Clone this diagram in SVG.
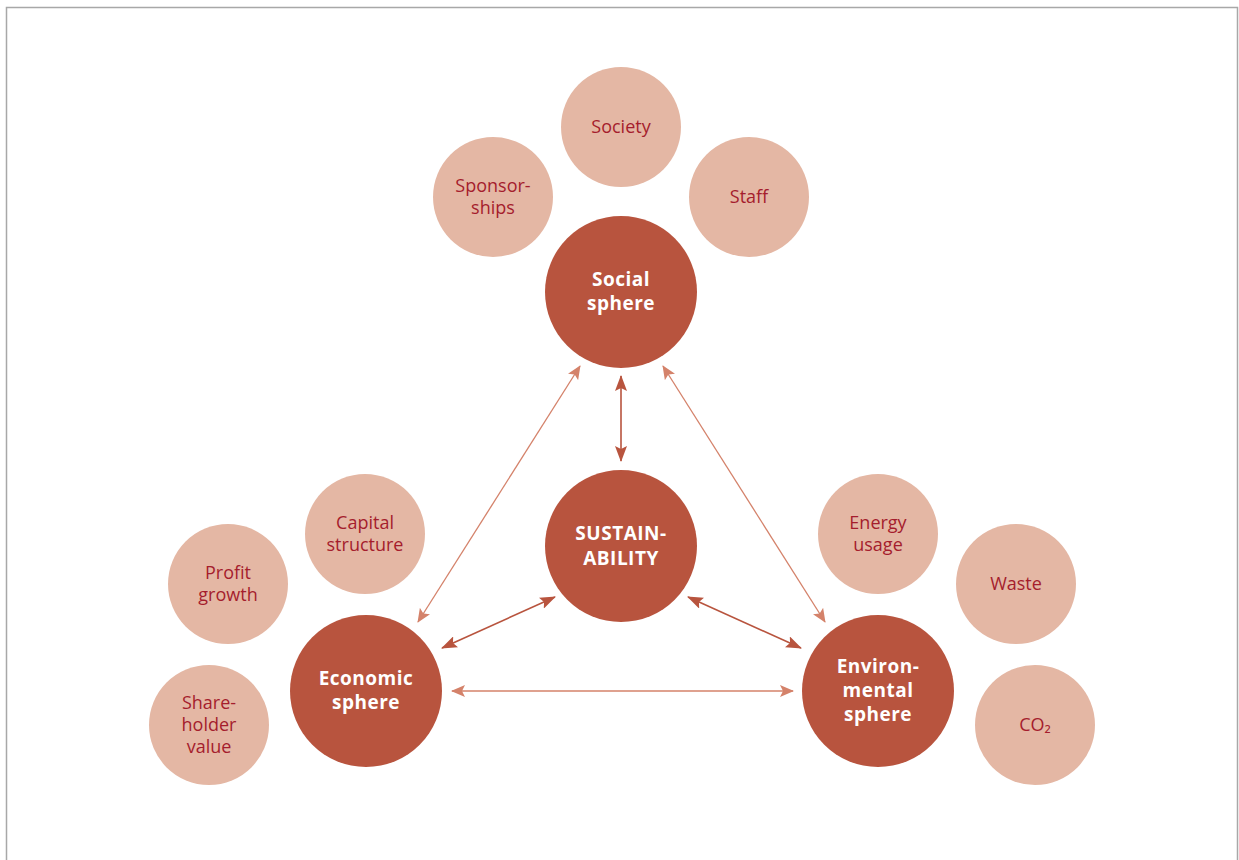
<svg xmlns="http://www.w3.org/2000/svg" width="1239" height="860" viewBox="0 0 1239 860">
<defs>
<style>
.main{fill:#b8543e}
.sub{fill:#e4b7a4}
.mt{font-family:"Open Sans","Noto Sans",sans-serif;font-weight:bold;font-size:19px;fill:#fff;text-anchor:middle;letter-spacing:0.5px}
.st{font-family:"Open Sans","Noto Sans",sans-serif;font-size:18px;fill:#a51d2d;text-anchor:middle}
.lc{stroke:#d4826a;stroke-width:1.3;fill:none}
.dc{stroke:#b8543e;stroke-width:1.6;fill:none}
</style>
<marker id="al" viewBox="0 0 14 12" refX="13" refY="6" markerWidth="14" markerHeight="12" markerUnits="userSpaceOnUse" orient="auto-start-reverse"><path d="M0,0 L14,6 L0,12 L3,6 Z" fill="#d4826a"/></marker>
<marker id="ad" viewBox="0 0 16 12" refX="15" refY="6" markerWidth="16" markerHeight="12" markerUnits="userSpaceOnUse" orient="auto-start-reverse"><path d="M0,0 L16,6 L0,12 L3,6 Z" fill="#b8543e"/></marker>
</defs>
<rect x="0" y="0" width="1239" height="860" fill="#fff"/>
<path d="M6.5,870 V7.5 H1237.5 V870" fill="none" stroke="#a8a8a8" stroke-width="1.5"/>
<g id="connectors">
<line class="dc" x1="621" y1="376" x2="621" y2="461" marker-start="url(#ad)" marker-end="url(#ad)"/>
<line class="lc" x1="580" y1="366" x2="418" y2="622" marker-start="url(#al)" marker-end="url(#al)"/>
<line class="lc" x1="663" y1="366" x2="825" y2="622" marker-start="url(#al)" marker-end="url(#al)"/>
<line class="dc" x1="555" y1="597" x2="442" y2="648" marker-start="url(#ad)" marker-end="url(#ad)"/>
<line class="dc" x1="688" y1="597" x2="801" y2="648" marker-start="url(#ad)" marker-end="url(#ad)"/>
<line class="lc" x1="452" y1="691" x2="793" y2="691" marker-start="url(#al)" marker-end="url(#al)"/>
</g>
<g id="society"><circle class="sub" cx="621" cy="127" r="60"/><text class="st" x="621" y="133">Society</text></g>
<g id="sponsorships"><circle class="sub" cx="493" cy="197" r="60"/><text class="st" x="493" y="192">Sponsor-</text><text class="st" x="493" y="214">ships</text></g>
<g id="staff"><circle class="sub" cx="749" cy="197" r="60"/><text class="st" x="749" y="203">Staff</text></g>
<g id="social"><circle class="main" cx="621" cy="292" r="76"/><text class="mt" x="621" y="286">Social</text><text class="mt" x="621" y="310">sphere</text></g>
<g id="sustainability"><circle class="main" cx="621" cy="546" r="76"/><text class="mt" x="621" y="540">SUSTAIN-</text><text class="mt" x="621" y="565">ABILITY</text></g>
<g id="capital"><circle class="sub" cx="365" cy="534" r="60"/><text class="st" x="365" y="529">Capital</text><text class="st" x="365" y="551">structure</text></g>
<g id="profit"><circle class="sub" cx="228" cy="584" r="60"/><text class="st" x="228" y="579">Profit</text><text class="st" x="228" y="601">growth</text></g>
<g id="shareholder"><circle class="sub" cx="209" cy="725" r="60"/><text class="st" x="209" y="709">Share-</text><text class="st" x="209" y="731">holder</text><text class="st" x="209" y="753">value</text></g>
<g id="economic"><circle class="main" cx="366" cy="691" r="76"/><text class="mt" x="366" y="685">Economic</text><text class="mt" x="366" y="709">sphere</text></g>
<g id="energy"><circle class="sub" cx="878" cy="534" r="60"/><text class="st" x="878" y="529">Energy</text><text class="st" x="878" y="551">usage</text></g>
<g id="waste"><circle class="sub" cx="1016" cy="584" r="60"/><text class="st" x="1016" y="590">Waste</text></g>
<g id="co2"><circle class="sub" cx="1035" cy="725" r="60"/><text class="st" x="1035" y="731">CO₂</text></g>
<g id="environmental"><circle class="main" cx="878" cy="691" r="76"/><text class="mt" x="878" y="673">Environ-</text><text class="mt" x="878" y="697">mental</text><text class="mt" x="878" y="721">sphere</text></g>
</svg>
